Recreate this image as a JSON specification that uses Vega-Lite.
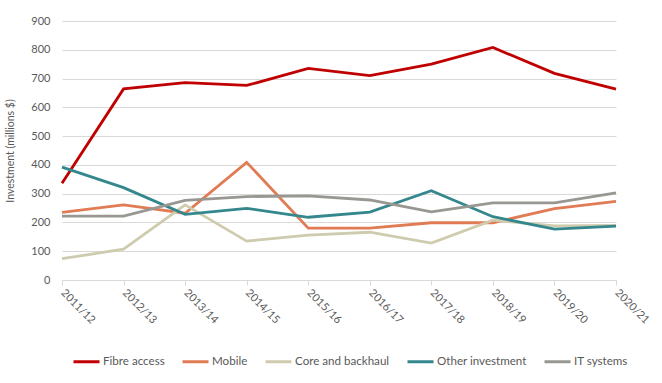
{
  "$schema": "https://vega.github.io/schema/vega-lite/v6.json",
  "width": 554,
  "height": 259,
  "autosize": {"type": "none"},
  "padding": {"left": 62, "top": 21, "right": 46, "bottom": 103},
  "background": "white",
  "config": {
    "view": {"stroke": null},
    "font": "Lato",
    "axis": {"labelFont": "Lato", "titleFont": "Lato", "labelColor": "#595959", "titleColor": "#595959", "labelFontSize": 11, "titleFontSize": 10.5, "titleFontWeight": "normal"},
    "legend": {"labelFont": "Lato", "labelFontSize": 11.6, "labelColor": "#595959"}
  },
  "data": {"values": [
    {"year": "2011/12", "series": "Fibre access", "value": 336},
    {"year": "2012/13", "series": "Fibre access", "value": 664},
    {"year": "2013/14", "series": "Fibre access", "value": 686},
    {"year": "2014/15", "series": "Fibre access", "value": 676},
    {"year": "2015/16", "series": "Fibre access", "value": 735},
    {"year": "2016/17", "series": "Fibre access", "value": 710},
    {"year": "2017/18", "series": "Fibre access", "value": 750},
    {"year": "2018/19", "series": "Fibre access", "value": 808},
    {"year": "2019/20", "series": "Fibre access", "value": 718},
    {"year": "2020/21", "series": "Fibre access", "value": 663},
    {"year": "2011/12", "series": "Mobile", "value": 235},
    {"year": "2012/13", "series": "Mobile", "value": 261},
    {"year": "2013/14", "series": "Mobile", "value": 232},
    {"year": "2014/15", "series": "Mobile", "value": 409},
    {"year": "2015/16", "series": "Mobile", "value": 180},
    {"year": "2016/17", "series": "Mobile", "value": 180},
    {"year": "2017/18", "series": "Mobile", "value": 199},
    {"year": "2018/19", "series": "Mobile", "value": 199},
    {"year": "2019/20", "series": "Mobile", "value": 248},
    {"year": "2020/21", "series": "Mobile", "value": 273},
    {"year": "2011/12", "series": "Core and backhaul", "value": 74},
    {"year": "2012/13", "series": "Core and backhaul", "value": 107},
    {"year": "2013/14", "series": "Core and backhaul", "value": 261},
    {"year": "2014/15", "series": "Core and backhaul", "value": 135},
    {"year": "2015/16", "series": "Core and backhaul", "value": 156},
    {"year": "2016/17", "series": "Core and backhaul", "value": 166},
    {"year": "2017/18", "series": "Core and backhaul", "value": 128},
    {"year": "2018/19", "series": "Core and backhaul", "value": 208},
    {"year": "2019/20", "series": "Core and backhaul", "value": 188},
    {"year": "2020/21", "series": "Core and backhaul", "value": 190},
    {"year": "2011/12", "series": "Other investment", "value": 392},
    {"year": "2012/13", "series": "Other investment", "value": 321},
    {"year": "2013/14", "series": "Other investment", "value": 228},
    {"year": "2014/15", "series": "Other investment", "value": 249},
    {"year": "2015/16", "series": "Other investment", "value": 218},
    {"year": "2016/17", "series": "Other investment", "value": 236},
    {"year": "2017/18", "series": "Other investment", "value": 310},
    {"year": "2018/19", "series": "Other investment", "value": 220},
    {"year": "2019/20", "series": "Other investment", "value": 177},
    {"year": "2020/21", "series": "Other investment", "value": 187},
    {"year": "2011/12", "series": "IT systems", "value": 222},
    {"year": "2012/13", "series": "IT systems", "value": 222},
    {"year": "2013/14", "series": "IT systems", "value": 277},
    {"year": "2014/15", "series": "IT systems", "value": 290},
    {"year": "2015/16", "series": "IT systems", "value": 292},
    {"year": "2016/17", "series": "IT systems", "value": 278},
    {"year": "2017/18", "series": "IT systems", "value": 237},
    {"year": "2018/19", "series": "IT systems", "value": 268},
    {"year": "2019/20", "series": "IT systems", "value": 268},
    {"year": "2020/21", "series": "IT systems", "value": 303}
  ]},
  "mark": {"type": "line", "strokeWidth": 2.8},
  "encoding": {
    "x": {
      "field": "year", "type": "ordinal",
      "scale": {"type": "point", "padding": 0},
      "axis": {"title": null, "labelAngle": 45, "labelAlign": "left", "labelBaseline": "middle", "labelPadding": 6, "domainColor": "#D9D9D9", "tickColor": "#D9D9D9", "tickSize": 5, "grid": false, "labelColor": "#595959"}
    },
    "y": {
      "field": "value", "type": "quantitative",
      "scale": {"domain": [0, 900], "nice": false},
      "axis": {"title": "Investment (millions $)", "values": [0,100,200,300,400,500,600,700,800,900], "domain": false, "ticks": false, "labelPadding": 12, "gridColor": "#D9D9D9", "gridWidth": 1, "titlePadding": 15}
    },
    "color": {
      "field": "series", "type": "nominal",
      "scale": {"domain": ["Fibre access", "Mobile", "Core and backhaul", "Other investment", "IT systems"], "range": ["#C00000", "#E07B54", "#CFCBAE", "#33878D", "#999791"]},
      "legend": {"title": null, "orient": "none", "legendX": 10, "legendY": 326, "direction": "horizontal", "symbolType": "stroke", "symbolStrokeWidth": 3, "symbolSize": 676, "columnPadding": 11, "labelOffset": 2}
    },
    "order": {"field": "year"}
  }
}
